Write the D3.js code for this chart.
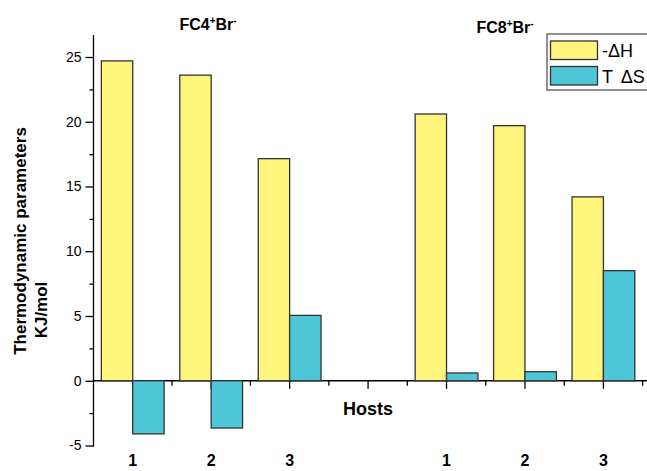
<!DOCTYPE html>
<html>
<head>
<meta charset="utf-8">
<script src="https://cdn.jsdelivr.net/npm/d3@7"></script>
<style>
body { margin: 0; background: #fff; }
text { font-family: "Liberation Sans", Arial, sans-serif; fill: #000; }
</style>
</head>
<body>
<div id="chart"></div>
<script>
// data
var groups = ["FC4", "FC8"];
var hosts = ["1", "2", "3"];
var minusDH = [[24.7, 23.6, 17.15], [20.6, 19.7, 14.2]];
var TdS = [[-4.1, -3.65, 5.05], [0.6, 0.7, 8.5]];
var seriesNames = ["-\u0394H", "T \u0394S"];
var yTicks = [-5, 0, 5, 10, 15, 20, 25];

var colors = ["#fff47c", "#4ec6d8"];

var width = 647, height = 471;

var svg = d3.select("#chart").append("svg")
    .attr("width", width)
    .attr("height", height);

// slot on the x axis: 3 hosts per group, one empty slot between groups
function slot(g, i) { return g * 4 + i + 1; }

var x = d3.scaleLinear()
    .domain([0.5, 8])
    .range([93.5, 93.5 + 7.5 * 78.45]);

var y = d3.scaleLinear()
    .domain([-5.1, 26.7])
    .range([446.8, 35]);

// bars
var bars = [];
groups.forEach(function(g, gi) {
    hosts.forEach(function(h, hi) {
        bars.push({s: 0, pos: slot(gi, hi), v: minusDH[gi][hi]});
        bars.push({s: 1, pos: slot(gi, hi), v: TdS[gi][hi]});
    });
});

var bw = x(1.4) - x(1);

// x axis (drawn first so negative bars hide the ticks)
var xMajor = d3.range(1, 8);
var xMinor = d3.range(1.5, 8, 1);
var xAxis = svg.append("g")
    .attr("transform", "translate(0," + y(0) + ")");
xAxis.append("line")
    .attr("x1", x(0.5)).attr("x2", width)
    .attr("stroke", "#000").attr("stroke-width", 1.3);
xAxis.selectAll(".maj").data(xMajor).enter().append("line")
    .attr("x1", function(d) { return x(d); })
    .attr("x2", function(d) { return x(d); })
    .attr("y1", 0).attr("y2", 8)
    .attr("stroke", "#000").attr("stroke-width", 1.3);
xAxis.selectAll(".min").data(xMinor).enter().append("line")
    .attr("x1", function(d) { return x(d); })
    .attr("x2", function(d) { return x(d); })
    .attr("y1", 0).attr("y2", 5)
    .attr("stroke", "#000").attr("stroke-width", 1.3);

svg.selectAll(".bar")
    .data(bars)
    .enter().append("rect")
    .attr("class", "bar")
    .attr("x", function(d) { return d.s == 0 ? x(d.pos) - bw : x(d.pos); })
    .attr("width", bw)
    .attr("y", function(d) { return y(Math.max(0, d.v)); })
    .attr("height", function(d) { return Math.abs(y(d.v) - y(0)); })
    .attr("fill", function(d) { return colors[d.s]; })
    .attr("stroke", "#333")
    .attr("stroke-width", 1.3);

// y axis
var yAxis = svg.append("g")
    .attr("transform", "translate(" + x(0.5) + ",0)")
    .call(d3.axisLeft(y).tickValues(yTicks).tickSize(8).tickPadding(4).tickFormat(function(d) { return String(d); }));
yAxis.append("g")
    .call(d3.axisLeft(y).tickValues(d3.range(-2.5, 26, 5)).tickSize(4).tickFormat(""));
yAxis.selectAll(".domain").remove();
yAxis.append("line")
    .attr("y1", y(-5.1)).attr("y2", y(26.7))
    .attr("stroke", "#000").attr("stroke-width", 1.3);
yAxis.selectAll("line").attr("stroke-width", 1.3);
yAxis.selectAll("text")
    .style("font-size", "14px")
    .attr("fill", "#000");

// host labels
var labels = [];
groups.forEach(function(g, gi) {
    hosts.forEach(function(h, hi) { labels.push({pos: slot(gi, hi), t: h}); });
});
svg.selectAll(".hlab")
    .data(labels)
    .enter().append("text")
    .attr("x", function(d) { return x(d.pos); })
    .attr("y", 466)
    .attr("text-anchor", "middle")
    .style("font-size", "16px")
    .style("font-weight", "bold")
    .text(function(d) { return d.t; });

svg.append("text")
    .attr("x", 368).attr("y", 415)
    .attr("text-anchor", "middle")
    .style("font-size", "18px")
    .style("font-weight", "bold")
    .text("Hosts");

// group titles
var titlePos = [[208, 30], [505, 33]];
groups.forEach(function(g, gi) {
    var t = svg.append("text")
        .attr("x", titlePos[gi][0]).attr("y", titlePos[gi][1])
        .attr("text-anchor", "middle")
        .style("font-size", "16px")
        .style("font-weight", "bold");
    t.append("tspan").text(g);
    t.append("tspan").attr("dy", -6).style("font-size", "10px").text("+");
    t.append("tspan").attr("dy", 6).text("Br");
    t.append("tspan").attr("dy", -6).style("font-size", "10px").text("-");
});

// y title
svg.append("text")
    .attr("transform", "translate(26,241) rotate(-90)")
    .attr("text-anchor", "middle")
    .style("font-size", "17px")
    .style("font-weight", "bold")
    .text("Thermodynamic parameters");
svg.append("text")
    .attr("transform", "translate(47,310) rotate(-90)")
    .attr("text-anchor", "middle")
    .style("font-size", "17px")
    .style("font-weight", "bold")
    .text("KJ/mol");

// legend
var legend = svg.append("g").attr("transform", "translate(547,34)");
legend.append("rect")
    .attr("width", 130).attr("height", 56)
    .attr("fill", "#fff").attr("stroke", "#555").attr("stroke-width", 1.3);
legend.selectAll(".sw")
    .data(seriesNames)
    .enter().append("rect")
    .attr("x", 3.5)
    .attr("y", function(d, i) { return 7 + i * 25.5; })
    .attr("width", 47).attr("height", 18.5)
    .attr("fill", function(d, i) { return colors[i]; })
    .attr("stroke", "#333").attr("stroke-width", 1.3);
legend.selectAll(".lt")
    .data(seriesNames)
    .enter().append("text")
    .attr("x", 55)
    .attr("y", function(d, i) { return 23 + i * 25.5; })
    .style("font-size", "18px")
    .style("word-spacing", "3px")
    .text(function(d) { return d; });
</script>
</body>
</html>
